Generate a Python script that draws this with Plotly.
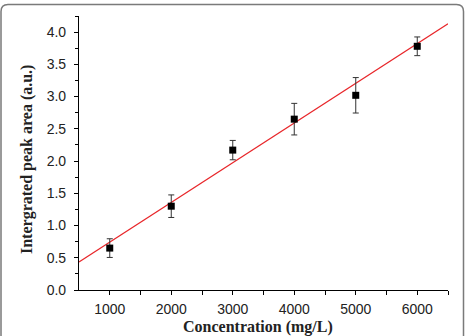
import plotly.graph_objects as go

# Data
concentration = [1000, 2000, 3000, 4000, 5000, 6000]
peak_area = [0.65, 1.30, 2.17, 2.65, 3.02, 3.78]
peak_err = [0.145, 0.175, 0.15, 0.245, 0.275, 0.145]
fit_x = [500, 6500]
fit_y = [0.435, 4.13]

x_ticks = [1000, 2000, 3000, 4000, 5000, 6000]
y_ticks = [0.0, 0.5, 1.0, 1.5, 2.0, 2.5, 3.0, 3.5, 4.0]

x_title = "Concentration (mg/L)"
y_title = "Intergrated peak area (a.u.)"

W, H = 465, 336
L, R, T, B = 79, 17, 16, 46

fig = go.Figure()
fig.add_trace(go.Scatter(
    x=fit_x, y=fit_y, mode="lines",
    line=dict(color="#e8262a", width=1.2), hoverinfo="skip", showlegend=False))
fig.add_trace(go.Scatter(
    x=concentration, y=peak_area, mode="markers",
    marker=dict(symbol="square", size=7, color="black"),
    error_y=dict(type="data", array=peak_err, visible=True,
                 color="#333333", thickness=1, width=3),
    showlegend=False))

# pixel -> paper helpers
def px(xp):
    return (xp - L) / (W - L - R)

def py(yp):
    return (H - B - yp) / (H - T - B)

r = 7
x0, y0, x1, y1 = 1, 4.5, 463.5, 345
path = (f"M {px(x0)},{py(y1)} L {px(x0)},{py(y0 + r)} "
        f"Q {px(x0)},{py(y0)} {px(x0 + r)},{py(y0)} "
        f"L {px(x1 - r)},{py(y0)} Q {px(x1)},{py(y0)} {px(x1)},{py(y0 + r)} "
        f"L {px(x1)},{py(y1)}")

title_font = dict(family="Liberation Serif, Times New Roman", size=16, color="#222")

fig.update_layout(
    width=W, height=H,
    margin=dict(l=L, r=R, t=T, b=B),
    paper_bgcolor="white", plot_bgcolor="white",
    shapes=[dict(type="path", path=path, xref="paper", yref="paper",
                 line=dict(color="#7a7a7a", width=1.5), layer="below")],
    annotations=[
        dict(text=f"<b>{x_title}</b>", xref="paper", yref="paper",
             x=px(258), y=py(327), xanchor="center", yanchor="middle",
             showarrow=False, font=title_font),
        dict(text=f"<b>{y_title}</b>", xref="paper", yref="paper",
             x=px(27), y=py(160), xanchor="center", yanchor="middle",
             textangle=-90, showarrow=False, font=title_font),
    ],
    xaxis=dict(
        range=[500, 6500], tickvals=x_ticks,
        ticktext=[str(v) for v in x_ticks],
        showline=True, linecolor="black", linewidth=1.2,
        ticks="outside", ticklen=4, tickwidth=1, tickcolor="black",
        ticklabelstandoff=2, automargin=False,
        minor=dict(tickvals=[1500, 2500, 3500, 4500, 5500, 6500],
                   ticks="outside", ticklen=4, tickcolor="black"),
        showgrid=False, zeroline=False,
        tickfont=dict(family="Liberation Sans, Arial", size=14, color="#222"),
    ),
    yaxis=dict(
        range=[0, 4.25], tickvals=y_ticks,
        ticktext=[f"{v:.1f}" for v in y_ticks],
        showline=True, linecolor="black", linewidth=1.2,
        ticks="outside", ticklen=4, tickwidth=1, tickcolor="black",
        ticklabelstandoff=5, automargin=False,
        minor=dict(dtick=0.25, ticks="outside", ticklen=3, tickcolor="black"),
        showgrid=False, zeroline=False,
        tickfont=dict(family="Liberation Sans, Arial", size=14, color="#222"),
    ),
)

fig.write_html("out.html")
